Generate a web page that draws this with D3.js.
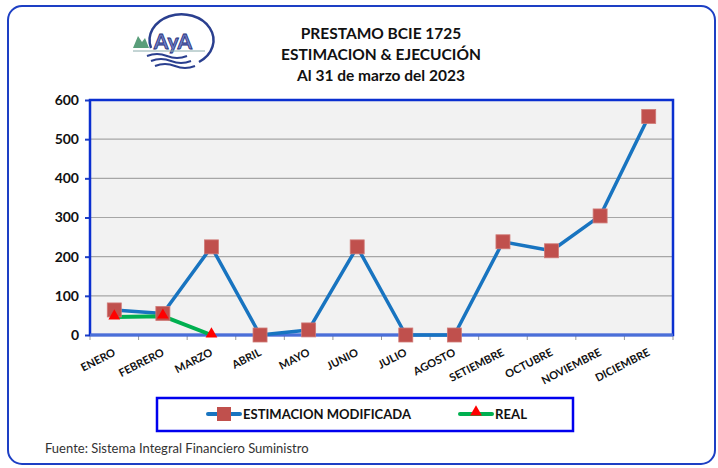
<!DOCTYPE html>
<html><head><meta charset="utf-8">
<script src="https://cdn.jsdelivr.net/npm/d3@7"></script>
<style>
body{margin:0;background:#fff}
text{font-family:Lato,"Open Sans",sans-serif}
</style></head>
<body><div class="board"></div>
<script>
var W = 718, H = 468
var margin = { top: 100, right: 45, bottom: 133, left: 90 },
    width = 673 - margin.left,
    height = 335 - margin.top

var months = ["ENERO","FEBRERO","MARZO","ABRIL","MAYO","JUNIO","JULIO","AGOSTO","SETIEMBRE","OCTUBRE","NOVIEMBRE","DICIEMBRE"]
var estimacion = [64, 55, 225, 0, 13, 225, 0, 0, 238, 215, 304, 558]
var real = [46, 48, 0]
var yTicks = [0, 100, 200, 300, 400, 500, 600]
var titleLines = ["PRESTAMO BCIE 1725", "ESTIMACION & EJECUCIÓN", "Al 31 de marzo del 2023"]

const BLUE = "#1874c0"
const MARKER = "#c0504d"
const GREEN = "#00b050"

var svg = d3.select(".board").append("svg")
    .attr("width", W).attr("height", H)

// outer frame
svg.append("rect")
    .attr("x", 8).attr("y", 6).attr("width", 707).attr("height", 458)
    .attr("rx", 14)
    .attr("fill", "white").attr("stroke", "#1d3fc4").attr("stroke-width", 2)

// logo
var logo = svg.append("g").attr("transform", "translate(133,18)")
logo.append("path").attr("d", "M18,30 A32,26 0 1 1 66,44").attr("fill", "none").attr("stroke", "#2a3f8f").attr("stroke-width", 2.5)
logo.append("path").attr("d", "M0,30 L5,18 L9,24 L12,20 L16,30 Z").attr("fill", "#5a9e7a")
logo.append("text").attr("x", 40).attr("y", 31).attr("text-anchor", "middle")
    .attr("font-size", 21).attr("font-weight", "bold").attr("fill", "#6f7fc9").attr("stroke", "#26307a").attr("stroke-width", 0.8)
    .text("AyA")
logo.append("line").attr("x1", 0).attr("x2", 72).attr("y1", 33).attr("y2", 33).attr("stroke", "#8aa").attr("stroke-width", 1)
;[38, 43, 48].forEach((y, i) => {
    logo.append("path")
        .attr("d", `M${14 + i * 4},${y} q10,-4 20,0 t20,0`)
        .attr("fill", "none").attr("stroke", "#2a3f8f").attr("stroke-width", 2)
})

// title
svg.append("g").selectAll("text")
    .data(titleLines).enter().append("text")
    .attr("x", 381).attr("y", (d, i) => 39 + i * 21)
    .attr("text-anchor", "middle")
    .attr("font-size", 15.5).attr("font-weight", "bold").attr("fill", "#111")
    .text(d => d)

var g = svg.append("g").attr("transform", `translate(${margin.left},${margin.top})`)

var x = d3.scaleBand().domain(months).range([0, width])
var y = d3.scaleLinear().domain([0, 600]).range([height, 0])

g.append("rect").attr("width", width).attr("height", height).attr("fill", "#f2f2f2")

g.append("g").selectAll("line")
    .data(yTicks.slice(1, -1)).enter().append("line")
    .attr("x1", 0).attr("x2", width)
    .attr("y1", d => y(d)).attr("y2", d => y(d))
    .attr("stroke", "#a6a6a6").attr("stroke-width", 1.2)

// y axis
var yAxis = g.append("g")
    .call(d3.axisLeft(y).tickValues(yTicks).tickSize(5).tickPadding(6))
yAxis.select(".domain").remove()
yAxis.selectAll("line").attr("stroke", "#1d3fc4").attr("stroke-width", 2)
yAxis.selectAll("text").attr("font-size", 14).attr("font-weight", "bold").attr("fill", "#111")
    .style("font-family", "Lato,sans-serif")

// x axis ticks at boundaries
var bounds = d3.range(0, months.length + 1)
g.append("g").selectAll("line")
    .data(bounds).enter().append("line")
    .attr("x1", d => d * x.step()).attr("x2", d => d * x.step())
    .attr("y1", height).attr("y2", height + 5)
    .attr("stroke", "#999")

g.append("g").selectAll("text")
    .data(months).enter().append("text")
    .attr("transform", d => `translate(${x(d) + x.bandwidth() / 2 + 2},${height + 20}) rotate(-27)`)
    .attr("text-anchor", "end")
    .attr("font-size", 11).attr("font-weight", "bold").attr("fill", "#111")
    .text(d => d)

// plot border
g.append("rect").attr("width", width).attr("height", height)
    .attr("fill", "none").attr("stroke", "#0a2fd0").attr("stroke-width", 2.5)
g.append("line").attr("x1", 0).attr("x2", width).attr("y1", height).attr("y2", height)
    .attr("stroke", "#4a6fd8").attr("stroke-width", 3)

var cx = (d, i) => x(months[i]) + x.bandwidth() / 2

var line = d3.line().x(cx).y(d => y(d))

g.append("path").datum(estimacion)
    .attr("d", line).attr("fill", "none")
    .attr("stroke", BLUE).attr("stroke-width", 3.5).attr("stroke-linejoin", "round")

g.append("path").datum(real)
    .attr("d", line).attr("fill", "none")
    .attr("stroke", GREEN).attr("stroke-width", 4).attr("stroke-linejoin", "round")

var S = 14
g.append("g").selectAll("rect")
    .data(estimacion).enter().append("rect")
    .attr("x", (d, i) => cx(d, i) - S / 2).attr("y", d => y(d) - S / 2)
    .attr("width", S).attr("height", S)
    .attr("fill", MARKER).attr("stroke", "#d07a77").attr("stroke-width", 0.8)

var tri = d3.symbol().type(d3.symbolTriangle).size(60)
g.append("g").selectAll("path")
    .data(real).enter().append("path")
    .attr("d", tri)
    .attr("transform", (d, i) => `translate(${cx(d, i)},${y(d) - 1})`)
    .attr("fill", "#ff0000")

// legend
var lg = svg.append("g")
lg.append("rect").attr("x", 157).attr("y", 398).attr("width", 416).attr("height", 33)
    .attr("fill", "white").attr("stroke", "#0000ee").attr("stroke-width", 2.5)

var entries = [
    { name: "ESTIMACION MODIFICADA", color: BLUE, x: 208, kind: "square" },
    { name: "REAL", color: GREEN, x: 460, kind: "triangle" }
]
entries.forEach(e => {
    lg.append("line").attr("x1", e.x).attr("x2", e.x + 32).attr("y1", 414).attr("y2", 414)
        .attr("stroke", e.color).attr("stroke-width", 4).attr("stroke-linecap", "round")
    if (e.kind == "square") {
        lg.append("rect").attr("x", e.x + 9).attr("y", 407).attr("width", 14).attr("height", 14).attr("fill", MARKER)
    } else {
        lg.append("path").attr("d", tri).attr("transform", `translate(${e.x + 16},412)`).attr("fill", "#ff0000")
    }
    lg.append("text").attr("x", e.x + 35).attr("y", 419)
        .attr("font-size", 14).attr("font-weight", "bold").attr("fill", "#111")
        .attr("textLength", e.kind == "square" ? 168 : 32).attr("lengthAdjust", "spacingAndGlyphs")
        .text(e.name)
})

// source
svg.append("text").attr("x", 45).attr("y", 453)
    .attr("font-size", 13).attr("fill", "#333")
    .text("Fuente: Sistema Integral Financiero Suministro")
</script>
</body></html>
